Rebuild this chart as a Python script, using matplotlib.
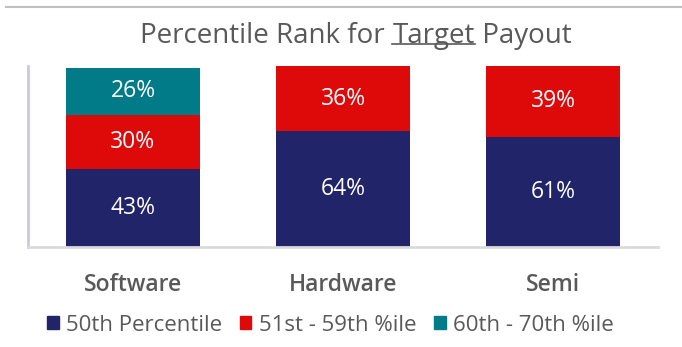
import matplotlib
matplotlib.use("Agg")
import matplotlib.pyplot as plt
from matplotlib.lines import Line2D
from matplotlib.patches import Patch

# data
categories = ["Software", "Hardware", "Semi"]
series_names = ["50th Percentile", "51st - 59th %ile", "60th - 70th %ile"]
p50 = [43, 64, 61]
p51_59 = [30, 36, 39]
p60_70 = [26, 0, 0]
colors = ["#212469", "#DE0A0A", "#027B89"]

plt.rcParams["font.family"] = ["Open Sans", "DejaVu Sans"]
GRAY = "#595959"

fig = plt.figure(figsize=(6.82, 3.47), dpi=100)
ax = fig.add_axes([0.041, 0.288, 0.924, 0.522])

x = range(len(categories))
bottom = [0, 0, 0]
for vals, col in zip([p50, p51_59, p60_70], colors):
    bars = ax.bar(x, vals, bottom=bottom, width=0.635, color=col)
    for b, v, bt in zip(bars, vals, bottom):
        if v > 0:
            ax.text(b.get_x() + b.get_width() / 2, bt + v / 2, f"{v}%",
                    ha="center", va="center", color="white", fontsize=16.5,
                    fontweight="medium")
    bottom = [a + b for a, b in zip(bottom, vals)]

ax.set_xlim(-0.5, 2.5)
ax.set_ylim(0, 100)
ax.set_xticks(list(x))
ax.set_xticklabels(categories, fontsize=16.5, color=GRAY, fontweight="semibold")
ax.tick_params(axis="x", length=0, pad=19)
ax.set_yticks([])
for s in ["top", "right"]:
    ax.spines[s].set_visible(False)
ax.spines["left"].set_color("#C9CAE0")
ax.spines["left"].set_linewidth(2)
ax.spines["bottom"].set_color("#DADADA")
ax.spines["bottom"].set_linewidth(2)

# title with underlined word
tkw = dict(fontsize=20, color=GRAY, va="bottom", fontweight="medium")
t1 = fig.text(0, 0.855, "Percentile Rank for ", **tkw)
t2 = ax.annotate("Target", xy=(1, 0), xycoords=t1, annotation_clip=False, **tkw)
t3 = ax.annotate(" Payout", xy=(1, 0), xycoords=t2, annotation_clip=False, **tkw)
fig.canvas.draw()
r = fig.canvas.get_renderer()
w = t3.get_window_extent(r).x1 - t1.get_window_extent(r).x0
t1.set_x((356 - w / 2) / 682)
fig.canvas.draw()
bb = t2.get_window_extent(r)
uy = (bb.y0 + 6) / 347
fig.add_artist(Line2D([bb.x0 / 682, bb.x1 / 682], [uy, uy], color=GRAY, lw=1.2))

# thin border line at the top
fig.add_artist(Line2D([0.009, 1], [1 - 7 / 347] * 2, color="#BFBFBF", lw=1.5))

handles = [Patch(color=c) for c in colors]
fig.legend(handles, series_names, loc="center", bbox_to_anchor=(0.485, 0.063),
           ncol=3, frameon=False, fontsize=16, labelcolor=GRAY,
           handlelength=0.5, handleheight=0.5, handletextpad=0.35,
           columnspacing=0.8, borderpad=0.1)

fig.savefig("out.png", dpi=100)
